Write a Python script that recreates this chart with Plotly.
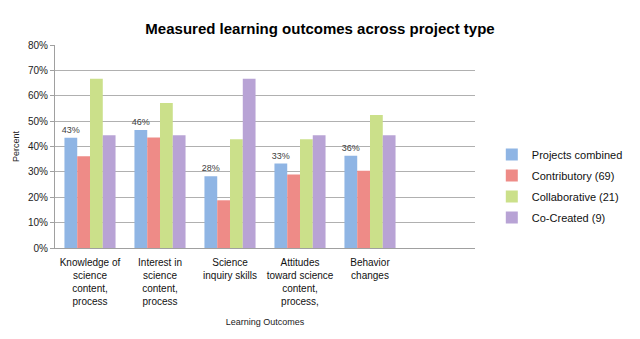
import plotly.graph_objects as go

categories = [
    "Knowledge of<br>science<br>content,<br>process",
    "Interest in<br>science<br>content,<br>process",
    "Science<br>inquiry skills",
    "Attitudes<br>toward science<br>content,<br>process,",
    "Behavior<br>changes",
    " ",
]
series_names = ["Projects combined", "Contributory (69)", "Collaborative (21)", "Co-Created (9)"]
projects_combined = [43.4, 46.5, 28.3, 33.3, 36.4]
contributory = [36.2, 43.5, 18.8, 29.0, 30.4]
collaborative = [66.7, 57.1, 42.9, 42.9, 52.4]
co_created = [44.4, 44.4, 66.7, 44.4, 44.4]
colors = ["#8fb5e4", "#ee8b87", "#cbe08a", "#b8a3d5"]
y_ticks = [0, 10, 20, 30, 40, 50, 60, 70, 80]

values = [projects_combined, contributory, collaborative, co_created]

fig = go.Figure()
for i, (name, vals, col) in enumerate(zip(series_names, values, colors)):
    kw = {}
    if i == 0:
        kw = dict(
            text=[f"{round(v)}%" for v in vals],
            textposition="outside",
            constraintext="none",
            textfont=dict(size=9, color="#404040", family="Liberation Sans, Arial"),
            cliponaxis=False,
        )
    fig.add_trace(go.Bar(
        x=categories[:len(vals)], y=vals, name=name, legendgroup=f"g{i}",
        marker=dict(color=col, line=dict(width=0)),
        **kw,
    ))

fig.update_layout(
    width=640, height=339,
    margin=dict(l=55, r=135, t=45, b=91),
    paper_bgcolor="white", plot_bgcolor="white",
    barmode="group", bargap=0.27, bargroupgap=0,
    font=dict(family="Liberation Sans, Arial", color="#222222", size=10),
    title=dict(
        text="<b>Measured learning outcomes across project type</b>",
        x=0.5, xanchor="center", y=0.915, yanchor="middle",
        font=dict(size=15, color="black", family="Liberation Sans, Arial"),
    ),
    legend=dict(
        x=1.04, y=0.305, xanchor="left", yanchor="middle",
        font=dict(size=11, color="#111111"),
        bgcolor="rgba(0,0,0,0)", itemwidth=30, tracegroupgap=2,
    ),
    showlegend=True,
)
fig.update_xaxes(
    categoryorder="array", categoryarray=categories,
    range=[-0.5, 5.5],
    showline=True, linecolor="#a0a0a0", linewidth=1,
    tickfont=dict(size=10, color="#111111"),
    ticklabelstandoff=5,
    title=dict(text="Learning Outcomes", font=dict(size=9, color="#222222"), standoff=12),
    ticks="",
)
fig.update_yaxes(
    range=[0, 80], tickvals=y_ticks, ticktext=[f"{t}%" for t in y_ticks],
    showgrid=True, gridcolor="#b0b0b0", gridwidth=1,
    showline=True, linecolor="#a0a0a0", linewidth=1,
    ticks="outside", ticklen=4, tickcolor="#a0a0a0",
    tickfont=dict(size=10, color="#222222"),
    title=dict(text="Percent", font=dict(size=9, color="#222222"), standoff=6),
    zeroline=False,
)

fig.write_html("out.html")
